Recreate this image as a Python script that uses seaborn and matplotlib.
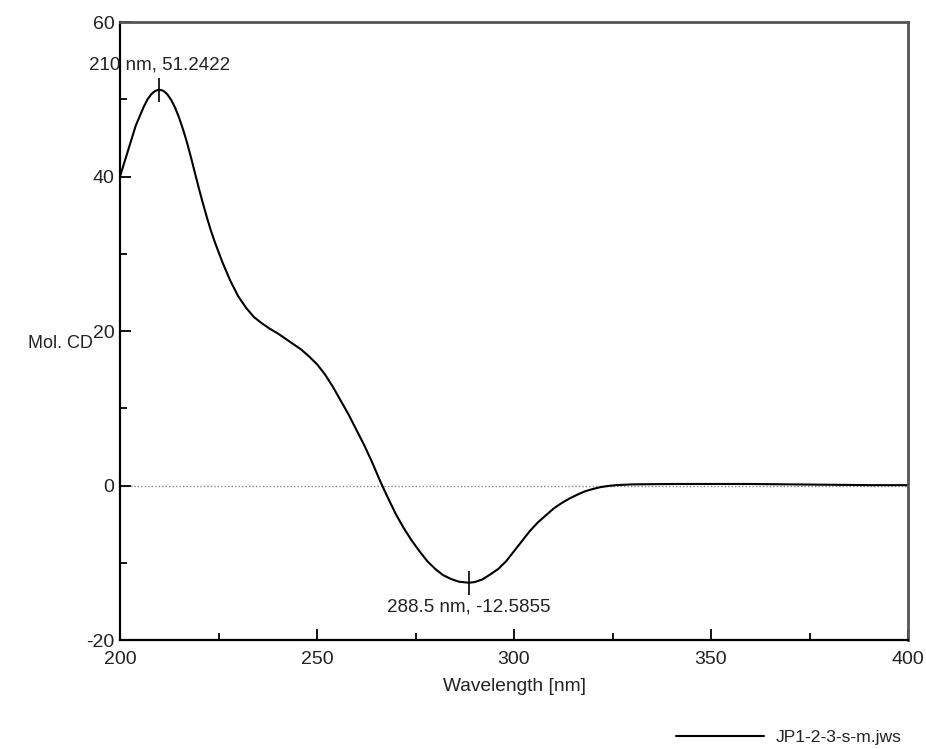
import numpy as np
import pandas as pd
import seaborn as sns
import matplotlib
matplotlib.use("Agg")
import matplotlib.pyplot as plt
from matplotlib.ticker import MultipleLocator

# CD spectrum
wavelength = [200, 202, 204, 206, 207, 208, 209, 210, 211, 212, 213, 214, 215, 216, 217, 218, 219, 220, 221, 222, 223, 224, 226, 228,
              230, 232, 234, 236, 238, 240, 242, 244, 246, 248, 250, 252, 254, 256, 258,
              260, 262, 264, 266, 268, 270, 272, 274, 276, 278, 280, 282, 284, 286, 288.5,
              290, 292, 294, 296, 298, 300, 302, 304, 306, 308, 310, 312, 314, 316, 318,
              320, 322, 324, 326, 328, 330, 340, 350, 360, 370, 380, 390, 400]
mol_cd = [40.0, 43.3, 46.6, 49.0, 50.0, 50.7, 51.1, 51.2422, 51.1, 50.65, 49.9, 48.9, 47.6, 46.1, 44.4, 42.5, 40.5, 38.5, 36.6, 34.8, 33.1, 31.6, 28.9, 26.5,
          24.5, 23.0, 21.8, 21.0, 20.3, 19.7, 19.0, 18.3, 17.6, 16.7, 15.7, 14.4, 12.8, 11.0, 9.2,
          7.2, 5.2, 3.0, 0.6, -1.6, -3.7, -5.5, -7.1, -8.5, -9.8, -10.8, -11.6, -12.1, -12.45, -12.5855,
          -12.5, -12.15, -11.5, -10.8, -9.8, -8.5, -7.2, -5.9, -4.8, -3.9, -3.0, -2.3, -1.7, -1.2, -0.75,
          -0.45, -0.2, -0.05, 0.05, 0.1, 0.15, 0.2, 0.2, 0.2, 0.15, 0.1, 0.05, 0.05]

peaks_x = [210, 288.5]
peaks_y = [51.2422, -12.5855]
peak_labels = ["210 nm, 51.2422", "288.5 nm, -12.5855"]

df = pd.DataFrame({"Wavelength [nm]": wavelength, "Mol. CD": mol_cd})

sns.set_style("white")
plt.rcParams["font.family"] = ["Liberation Sans", "DejaVu Sans"]
plt.rcParams["axes.unicode_minus"] = False

fig = plt.figure(figsize=(9.26, 7.49), dpi=100)
ax = fig.add_axes([0.1296, 0.1455, 0.851, 0.8251])

sns.lineplot(data=df, x="Wavelength [nm]", y="Mol. CD", color="black", lw=1.5,
             label="JP1-2-3-s-m.jws", ax=ax, legend=False)
ax.axhline(0, color="#888888", lw=1, ls=(0, (1, 1.5)), zorder=0)

# peak markers
ax.plot(peaks_x, peaks_y, ls="none", marker="|", ms=17, mew=1.2, color="black")
ax.annotate(peak_labels[0], (peaks_x[0], peaks_y[0]), xytext=(0, 12), textcoords="offset points",
            ha="center", va="bottom", fontsize=13.5, color="#222222")
ax.annotate(peak_labels[1], (peaks_x[1], peaks_y[1]), xytext=(0, -11), textcoords="offset points",
            ha="center", va="top", fontsize=13.5, color="#222222")

ax.set_xlim(200, 400)
ax.set_ylim(-20, 60)
ax.xaxis.set_major_locator(MultipleLocator(50))
ax.xaxis.set_minor_locator(MultipleLocator(25))
ax.yaxis.set_major_locator(MultipleLocator(20))
ax.yaxis.set_minor_locator(MultipleLocator(10))
ax.tick_params(which="both", direction="in", width=1.3, colors="black", labelcolor="#222222",
               labelsize=14, bottom=True, left=True, top=False, right=False)
ax.tick_params(which="major", length=8)
ax.tick_params(which="minor", length=5)
ax.tick_params(axis="x", pad=8)
ax.tick_params(axis="y", pad=4)

for side in ["left", "bottom"]:
    ax.spines[side].set_color("black")
    ax.spines[side].set_linewidth(1.6)
for side in ["top", "right"]:
    ax.spines[side].set_color("#555555")
    ax.spines[side].set_linewidth(2)

ax.set_xlabel("Wavelength [nm]", fontsize=13.8, color="#222222", labelpad=7)
ax.set_ylabel("Mol. CD", fontsize=13, color="#222222", rotation=0, ha="center", va="center")
ax.yaxis.set_label_coords(-0.075, 0.48)

handles, labels = ax.get_legend_handles_labels()
fig.legend(handles, labels, loc="lower right", bbox_to_anchor=(0.991, -0.016), frameon=False,
           fontsize=12.6, handlelength=5.0, handletextpad=0.7, labelcolor="#222222")

fig.savefig("out.png", dpi=100)
